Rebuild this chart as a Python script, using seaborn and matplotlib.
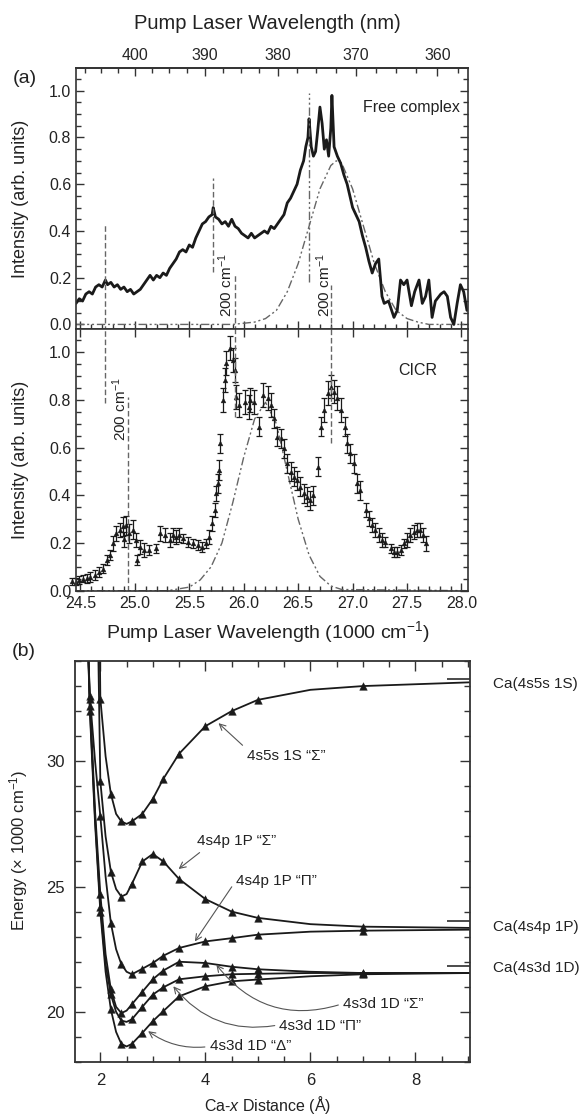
import numpy as np
import pandas as pd
import matplotlib
matplotlib.use('Agg')
import matplotlib.pyplot as plt
from matplotlib.ticker import MultipleLocator
import seaborn as sns

sns.set_style('ticks')
plt.rcParams['font.family'] = ['Liberation Sans', 'DejaVu Sans']
plt.rcParams['mathtext.fontset'] = 'custom'
plt.rcParams['mathtext.rm'] = 'Liberation Sans'
plt.rcParams['mathtext.it'] = 'Liberation Sans:italic'
plt.rcParams['text.color'] = '#222222'

# --- (a) free complex spectrum (1000 cm-1, arb. units) ---
fc_x = [24.46, 24.49, 24.52, 24.55, 24.58, 24.61, 24.64, 24.67, 24.70, 24.73, 24.75, 24.78,
        24.81, 24.84, 24.87, 24.90, 24.93, 24.96, 24.99, 25.02, 25.05, 25.08, 25.11, 25.14,
        25.17, 25.20, 25.23, 25.26, 25.29, 25.32, 25.35, 25.38, 25.41, 25.44, 25.47, 25.50,
        25.53, 25.56, 25.59, 25.62, 25.65, 25.68, 25.71, 25.72, 25.74, 25.77, 25.80, 25.83,
        25.86, 25.89, 25.92, 25.95, 25.98, 26.01, 26.04, 26.07, 26.10, 26.13, 26.16, 26.19,
        26.22, 26.25, 26.28, 26.31, 26.34, 26.37, 26.40, 26.43, 26.46, 26.49, 26.52, 26.55,
        26.57, 26.59, 26.60, 26.62, 26.64, 26.66, 26.68, 26.70, 26.72, 26.74, 26.76, 26.78,
        26.80, 26.81, 26.83, 26.86, 26.89, 26.92, 26.95, 26.98, 27.00, 27.03, 27.06, 27.09,
        27.12, 27.15, 27.18, 27.21, 27.24, 27.27, 27.29, 27.33, 27.38, 27.41, 27.44, 27.47,
        27.50, 27.54, 27.57, 27.61, 27.64, 27.67, 27.70, 27.73, 27.76, 27.81, 27.84, 27.87,
        27.90, 27.93, 27.96, 27.99, 28.02, 28.05]
fc_y = [0.09, 0.11, 0.10, 0.13, 0.14, 0.13, 0.16, 0.17, 0.16, 0.19, 0.17, 0.18,
        0.16, 0.17, 0.15, 0.16, 0.14, 0.15, 0.13, 0.14, 0.15, 0.17, 0.19, 0.21,
        0.19, 0.21, 0.20, 0.22, 0.21, 0.24, 0.26, 0.28, 0.31, 0.32, 0.31, 0.34,
        0.33, 0.37, 0.40, 0.43, 0.44, 0.46, 0.47, 0.50, 0.46, 0.45, 0.43, 0.44,
        0.42, 0.45, 0.42, 0.41, 0.39, 0.38, 0.37, 0.39, 0.37, 0.38, 0.39, 0.40,
        0.39, 0.42, 0.41, 0.43, 0.45, 0.47, 0.52, 0.54, 0.57, 0.60, 0.66, 0.70,
        0.76, 0.80, 0.88, 0.76, 0.72, 0.74, 0.83, 0.93, 0.86, 0.75, 0.79, 0.72,
        0.84, 0.98, 0.76, 0.72, 0.69, 0.64, 0.60, 0.54, 0.50, 0.47, 0.44, 0.38,
        0.33, 0.27, 0.22, 0.26, 0.28, 0.12, 0.09, 0.10, 0.03, 0.06, 0.19, 0.17,
        0.19, 0.08, 0.14, 0.19, 0.09, 0.12, 0.19, 0.03, 0.10, 0.13, 0.14, 0.12,
        0.03, 0.00, 0.09, 0.17, 0.14, 0.06]

# gaussian fits (dash-dot)
fit1_x = [24.46, 25.9, 26.1, 26.2, 26.3, 26.4, 26.5, 26.6, 26.7, 26.8, 26.85, 26.9,
          27.0, 27.1, 27.2, 27.3, 27.4, 27.5, 27.6, 27.7, 28.06]
fit1_y = [0.0, 0.0, 0.01, 0.025, 0.06, 0.14, 0.26, 0.42, 0.58, 0.68, 0.70, 0.69,
          0.58, 0.42, 0.26, 0.14, 0.06, 0.025, 0.01, 0.0, 0.0]
fit2_x = [24.46, 25.3, 25.5, 25.6, 25.7, 25.8, 25.9, 26.0, 26.1, 26.2, 26.3, 26.4,
          26.5, 26.6, 26.7, 26.8, 26.9, 28.06]
fit2_y = [0.0, 0.0, 0.015, 0.045, 0.10, 0.20, 0.37, 0.56, 0.72, 0.79, 0.70, 0.50,
          0.30, 0.15, 0.06, 0.02, 0.005, 0.0]

# --- (a) CICR spectrum with error bars ---
ci_x = [24.42, 24.46, 24.49, 24.52, 24.56, 24.59, 24.63, 24.67, 24.71, 24.74, 24.77, 24.80,
        24.83, 24.86, 24.89, 24.90, 24.92, 24.95, 24.98, 25.01, 25.02, 25.05, 25.08, 25.13,
        25.19, 25.23, 25.28, 25.32, 25.35, 25.38, 25.41, 25.44, 25.49, 25.53, 25.58, 25.62,
        25.65, 25.68, 25.71, 25.74, 25.75, 25.76, 25.77, 25.78, 25.81, 25.83, 25.84, 25.87,
        25.90, 25.92, 25.93, 25.96, 26.01, 26.05, 26.06, 26.09, 26.14, 26.18, 26.22, 26.25,
        26.28, 26.31, 26.34, 26.37, 26.40, 26.43, 26.46, 26.49, 26.52, 26.55, 26.58, 26.61,
        26.64, 26.68, 26.71, 26.74, 26.77, 26.80, 26.83, 26.86, 26.89, 26.93, 26.95, 26.98,
        27.01, 27.04, 27.07, 27.12, 27.15, 27.18, 27.21, 27.24, 27.27, 27.30, 27.35, 27.38,
        27.41, 27.44, 27.47, 27.50, 27.53, 27.56, 27.59, 27.62, 27.65, 27.67]
ci_y = [0.040, 0.038, 0.045, 0.050, 0.052, 0.058, 0.065, 0.078, 0.093, 0.128, 0.150, 0.198,
        0.240, 0.255, 0.270, 0.215, 0.275, 0.240, 0.255, 0.212, 0.128, 0.184, 0.170, 0.170,
        0.177, 0.240, 0.233, 0.212, 0.233, 0.226, 0.233, 0.219, 0.205, 0.198, 0.191, 0.184,
        0.198, 0.226, 0.282, 0.338, 0.408, 0.450, 0.506, 0.618, 0.800, 0.884, 0.954, 1.017,
        0.968, 0.926, 0.814, 0.779, 0.793, 0.772, 0.800, 0.793, 0.688, 0.820, 0.807, 0.779,
        0.723, 0.646, 0.640, 0.597, 0.534, 0.499, 0.478, 0.464, 0.436, 0.408, 0.394, 0.380,
        0.401, 0.520, 0.688, 0.758, 0.828, 0.856, 0.835, 0.807, 0.758, 0.688, 0.618, 0.576,
        0.534, 0.450, 0.422, 0.338, 0.303, 0.275, 0.254, 0.233, 0.212, 0.205, 0.177, 0.163,
        0.163, 0.170, 0.198, 0.212, 0.233, 0.247, 0.254, 0.254, 0.233, 0.198]
ci_err = [0.015, 0.015, 0.015, 0.015, 0.02, 0.02, 0.02, 0.02, 0.02, 0.02, 0.02, 0.03,
          0.03, 0.03, 0.04, 0.03, 0.04, 0.04, 0.04, 0.03, 0.02, 0.03, 0.03, 0.02,
          0.02, 0.03, 0.03, 0.03, 0.03, 0.03, 0.03, 0.02, 0.02, 0.02, 0.02, 0.02,
          0.02, 0.03, 0.03, 0.03, 0.03, 0.04, 0.04, 0.04, 0.05, 0.05, 0.05, 0.05,
          0.05, 0.05, 0.05, 0.05, 0.05, 0.05, 0.05, 0.05, 0.04, 0.05, 0.05, 0.05,
          0.04, 0.04, 0.04, 0.04, 0.04, 0.04, 0.04, 0.04, 0.04, 0.04, 0.04, 0.04,
          0.04, 0.04, 0.04, 0.05, 0.05, 0.05, 0.05, 0.05, 0.05, 0.04, 0.04, 0.04,
          0.04, 0.04, 0.04, 0.03, 0.03, 0.03, 0.03, 0.03, 0.03, 0.02, 0.02, 0.02,
          0.02, 0.02, 0.02, 0.03, 0.03, 0.03, 0.03, 0.03, 0.03, 0.03]

# vertical guide lines: (x, ymin, ymax)
top_dash = [(24.73, -0.1, 0.425), (25.72, 0.225, 0.625), (25.92, -0.1, 0.22), (26.80, -0.1, 0.17)]
top_dashdot = [(26.60, 0.18, 0.99)]
low_dash = [(24.73, 0.786, 1.2), (24.94, 0.0, 0.814), (25.92, 0.73, 1.2), (26.80, 0.618, 1.2)]
shift_labels = [(24.86, 0.76, 'low'), (25.83, 0.17, 'top'), (26.73, 0.17, 'top')]

# --- (b) potential curves, Ca-x distance (A) vs energy (1000 cm-1) ---
mark_r = [1.8, 2.0, 2.2, 2.4, 2.6, 2.8, 3.0, 3.2, 3.5, 4.0, 4.5, 5.0, 7.0]
s5s_r = [1.99, 2.0, 2.1, 2.2, 2.3, 2.4, 2.5, 2.6, 2.8, 3.0, 3.2, 3.5, 4.0, 4.5, 5.0, 6.0, 7.0, 9.05]
s5s_E = [34.5, 32.5, 30.2, 28.7, 27.9, 27.6, 27.5, 27.6, 27.9, 28.5, 29.3, 30.3, 31.4, 32.0, 32.45, 32.85, 33.0, 33.15]
psig_r = [1.96, 2.0, 2.1, 2.2, 2.3, 2.4, 2.5, 2.6, 2.8, 3.0, 3.2, 3.5, 4.0, 4.5, 5.0, 6.0, 7.0, 9.05]
psig_E = [34.5, 29.2, 27.0, 25.6, 24.9, 24.6, 24.7, 25.1, 26.0, 26.3, 26.0, 25.3, 24.5, 24.0, 23.75, 23.5, 23.4, 23.35]
wall_r = [1.76, 1.8, 1.9, 2.0, 2.1, 2.2, 2.3, 2.4, 2.5, 2.6, 2.8, 3.0, 3.2, 3.5, 4.0, 4.5, 5.0, 6.0, 7.0, 9.05]
ppi_E = [35.0, 32.6, 30.0, 27.8, 25.4, 23.55, 22.5, 21.9, 21.6, 21.5, 21.72, 21.95, 22.24, 22.55, 22.81, 22.94, 23.08, 23.2, 23.24, 23.28]
dsig_E = [35.0, 32.5, 28.0, 24.7, 22.3, 20.9, 20.2, 19.95, 20.05, 20.3, 20.8, 21.3, 21.65, 22.0, 21.95, 21.8, 21.7, 21.6, 21.55, 21.55]
dpi_E = [35.0, 32.2, 27.7, 24.2, 21.9, 20.7, 20.0, 19.65, 19.6, 19.7, 20.2, 20.69, 20.98, 21.3, 21.42, 21.5, 21.52, 21.55, 21.55, 21.55]
ddel_E = [35.0, 32.0, 27.5, 24.0, 21.6, 20.1, 19.2, 18.72, 18.62, 18.72, 19.16, 19.63, 20.03, 20.62, 21.02, 21.22, 21.29, 21.42, 21.5, 21.55]

atom_levels = [33.3, 23.64, 21.84]
atom_labels = ['Ca(4s5s 1S)', 'Ca(4s4p 1P)', 'Ca(4s3d 1D)']
atom_label_E = [33.1, 23.4, 21.75]

# (label, text pos, arrow tip, relpos, arc rad)
notes = [
    ('4s5s 1S \u201c\u03a3\u201d', (4.79, 30.2), (4.25, 31.52), (0.0, 1.0), 0.0),
    ('4s4p 1P \u201c\u03a3\u201d', (3.84, 26.8), (3.49, 25.7), (0.1, 0.0), 0.0),
    ('4s4p 1P \u201c\u03a0\u201d', (4.58, 25.23), (3.80, 22.81), (0.0, 0.5), 0.0),
    ('4s3d 1D \u201c\u03a3\u201d', (6.62, 20.33), (4.21, 21.88), (0.0, 0.5), -0.35),
    ('4s3d 1D \u201c\u03a0\u201d', (5.41, 19.43), (3.39, 21.02), (0.0, 0.6), -0.3),
    ('4s3d 1D \u201c\u0394\u201d', (4.08, 18.62), (2.91, 19.23), (0.0, 0.5), -0.2),
]

ink = '#1a1a1a'
guide = '#666666'

fig = plt.figure(figsize=(5.83, 11.16), dpi=100)
ax1 = fig.add_axes([0.1304, 0.7049, 0.6724, 0.2339])
ax2 = fig.add_axes([0.1304, 0.4707, 0.6724, 0.2342])
ax3 = fig.add_axes([0.1295, 0.0484, 0.6767, 0.3593])

dashdot = (0, (6, 2, 1.5, 2, 1.5, 2))

# upper: free complex
sns.lineplot(x=fit1_x, y=fit1_y, ax=ax1, color=guide, lw=1.0, linestyle=dashdot, estimator=None)
sns.lineplot(x=fc_x, y=fc_y, ax=ax1, color=ink, lw=2.0, estimator=None)
for x, y0, y1 in top_dash:
    ax1.vlines(x, y0, y1, color=guide, lw=1.0, linestyle=(0, (4, 2)))
for x, y0, y1 in top_dashdot:
    ax1.vlines(x, y0, y1, color=guide, lw=1.0, linestyle=dashdot)
ax1.text(0.98, 0.848, 'Free complex', transform=ax1.transAxes, ha='right', va='center', fontsize=11.5)

# lower: CICR
sns.lineplot(x=fit2_x, y=fit2_y, ax=ax2, color=guide, lw=1.0, linestyle=dashdot, estimator=None)
ax2.errorbar(ci_x, ci_y, yerr=ci_err, fmt='none', ecolor=ink, elinewidth=0.9,
             capsize=2.2, capthick=0.9, clip_on=False)
sns.scatterplot(x=ci_x, y=ci_y, ax=ax2, marker='^', s=12, color=ink, edgecolor=ink,
                linewidth=0.3, clip_on=False)
for x, y0, y1 in low_dash:
    ax2.vlines(x, y0, y1, color=guide, lw=1.0, linestyle=(0, (4, 2)))
ax2.text(0.871, 0.844, 'CICR', transform=ax2.transAxes, ha='center', va='center', fontsize=11.5)

for x, y, where in shift_labels:
    a = ax2 if where == 'low' else ax1
    a.text(x, y, '200 cm$^{-1}$', rotation=90, ha='center', va='center', fontsize=11)

for a in (ax1, ax2):
    a.set_xlim(24.46, 28.06)
    a.xaxis.set_major_locator(MultipleLocator(0.5))
    a.xaxis.set_minor_locator(MultipleLocator(0.1))
    a.yaxis.set_major_locator(MultipleLocator(0.2))
    a.yaxis.set_minor_locator(MultipleLocator(0.05))
    a.tick_params(which='both', direction='in', right=True, labelsize=11.5, width=1.0,
                  color='#333333', labelcolor='#222222')
    a.tick_params(which='major', length=6)
    a.tick_params(which='minor', length=3.5)
    a.set_xlabel('')
    a.set_ylabel('')
    for sp in a.spines.values():
        sp.set_color('#333333')
        sp.set_linewidth(1.2)

ax1.set_ylim(-0.021, 1.096)
ax2.set_ylim(0.0, 1.096)
ax1.tick_params(axis='x', top=False, labelbottom=False)
ax2.tick_params(axis='x', top=True)
ax1.yaxis.set_major_formatter(matplotlib.ticker.FormatStrFormatter('%.1f'))
ax2.yaxis.set_major_formatter(matplotlib.ticker.FormatStrFormatter('%.1f'))
ax2.xaxis.set_major_formatter(matplotlib.ticker.FormatStrFormatter('%.1f'))


def to_nm(x):
    with np.errstate(divide='ignore'):
        return 1e4 / np.asarray(x, dtype=float)


sec = ax1.secondary_xaxis('top', functions=(to_nm, to_nm))
sec.xaxis.set_major_locator(MultipleLocator(10))
sec.xaxis.set_minor_locator(MultipleLocator(2.5))
sec.tick_params(which='both', direction='in', labelsize=11.5, width=1.0, color='#333333')
sec.tick_params(which='major', length=6)
sec.tick_params(which='minor', length=3.5)
sec.spines['top'].set_linewidth(1.2)

fig.text(0.459, 0.979, 'Pump Laser Wavelength (nm)', ha='center', va='center', fontsize=14.5)
fig.text(0.459, 0.4337, 'Pump Laser Wavelength (1000 cm$^{-1}$)', ha='center', va='center', fontsize=14)
fig.text(0.035, 0.822, 'Intensity (arb. units)', rotation=90, ha='center', va='center', fontsize=13)
fig.text(0.035, 0.588, 'Intensity (arb. units)', rotation=90, ha='center', va='center', fontsize=13)
fig.text(0.043, 0.930, '(a)', ha='center', va='center', fontsize=14)
fig.text(0.041, 0.416, '(b)', ha='center', va='center', fontsize=14)

# panel (b)
curves = [(s5s_r, s5s_E), (psig_r, psig_E), (wall_r, ppi_E),
          (wall_r, dsig_E), (wall_r, dpi_E), (wall_r, ddel_E)]
for r, E in curves:
    df = pd.DataFrame({'r': r, 'E': E})
    sns.lineplot(data=df, x='r', y='E', ax=ax3, color=ink, lw=1.3, sort=False, estimator=None)
    pts = df[df['r'].round(2).isin(mark_r)]
    sns.scatterplot(data=pts, x='r', y='E', ax=ax3, marker='^', s=30, color=ink,
                    edgecolor=ink, linewidth=0.3, zorder=3)

ax3.hlines(atom_levels, 8.6, 9.05, color=ink, lw=1.1)
for lab, e in zip(atom_labels, atom_label_E):
    ax3.text(9.48, e, lab, ha='left', va='center', fontsize=11, clip_on=False)

for lab, xyt, xy, rel, rad in notes:
    ax3.annotate(lab, xy=xy, xytext=xyt, ha='left', va='center', fontsize=11,
                 arrowprops=dict(arrowstyle='->', color='#555555', lw=0.8, shrinkA=1, shrinkB=0,
                                 relpos=rel, connectionstyle='arc3,rad=%s' % rad))

ax3.set_xlim(1.527, 9.04)
ax3.set_ylim(18.0, 34.0)
ax3.xaxis.set_major_locator(MultipleLocator(2))
ax3.xaxis.set_minor_locator(MultipleLocator(0.5))
ax3.yaxis.set_major_locator(MultipleLocator(5))
ax3.yaxis.set_minor_locator(MultipleLocator(1))
ax3.tick_params(which='both', direction='in', top=True, right=True, labelsize=12, width=1.0,
                color='#333333', labelcolor='#222222', pad=8)
ax3.tick_params(which='major', length=7)
ax3.tick_params(which='minor', length=4)
ax3.set_xlabel('')
ax3.set_ylabel('')
for sp in ax3.spines.values():
    sp.set_color('#333333')
    sp.set_linewidth(1.3)

fig.text(0.459, 0.0095, 'Ca-$x$ Distance (\u00c5)', ha='center', va='center', fontsize=11.5)
fig.text(0.032, 0.238, 'Energy (\u00d7 1000 cm$^{-1}$)', rotation=90, ha='center', va='center', fontsize=12)

fig.savefig('out.png', dpi=100)
